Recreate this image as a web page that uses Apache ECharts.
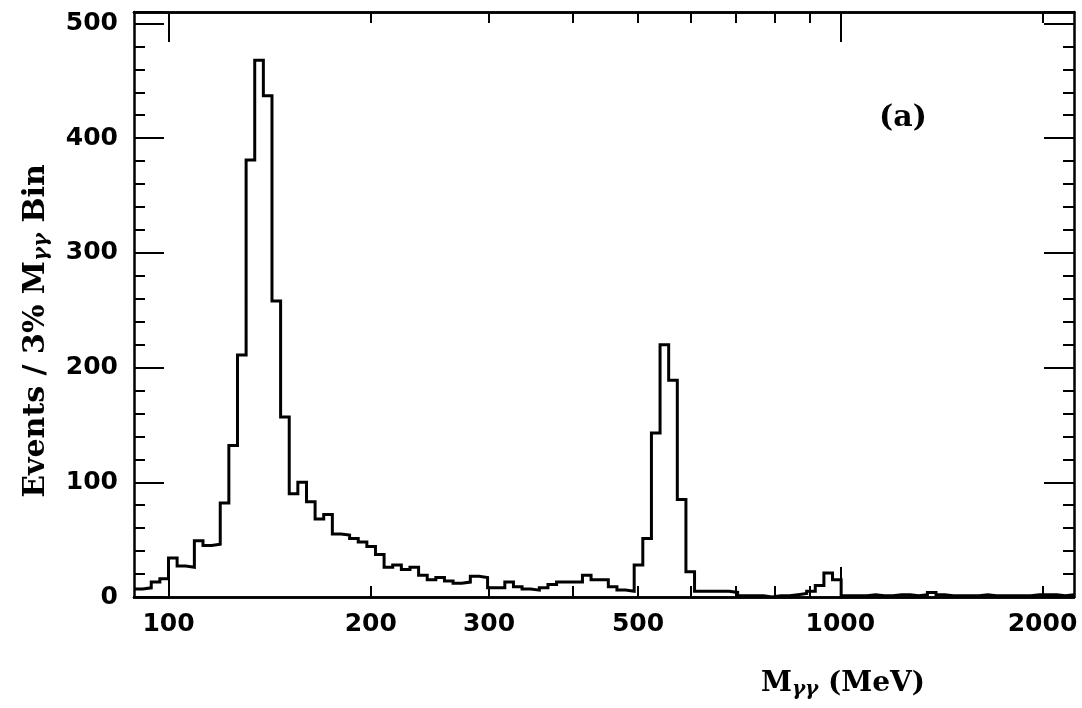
<!DOCTYPE html>
<html>
<head>
<meta charset="utf-8">
<title>M_gg histogram</title>
<script src="https://cdn.jsdelivr.net/npm/echarts@6/dist/echarts.min.js"></script>
<style>
    html, body { margin: 0; padding: 0; background: #fff; }
    #chart { width: 1082px; height: 708px; }
</style>
</head>
<body>
<div id="chart"></div>
<script>
// 3% bins: lower edge of bin k is 100 * 1.03^k, first bin k = -4
var binRatio = 1.03;
var firstBin = -4;

// events per bin (k = -4 ... 104)
var binCounts = [
    7, 8, 13, 16,
    34, 27, 26, 49, 45, 46, 82, 132, 211, 381,
    468, 437, 258, 157, 90, 100, 83, 68, 72, 55,
    54, 51, 48, 44, 37, 26, 28, 24, 26, 19,
    15, 17, 14, 12, 13, 18, 17, 8, 8, 13,
    9, 7, 6, 8, 11, 13, 13, 13, 19, 15,
    15, 9, 6, 5, 28, 51, 143, 220, 189, 85,
    22, 5, 5, 5, 5, 4, 1, 1, 1, 0,
    1, 1, 2, 3, 5, 10, 21, 15, 1, 1,
    1, 2, 1, 1, 2, 2, 1, 2, 4, 2,
    1, 1, 1, 1, 2, 1, 1, 1, 1, 1,
    2, 2, 2, 1, 2
];

var xLabelValues = [100, 200, 300, 500, 1000, 2000];
var xMajorTicks = [100, 1000];
var xMinorTicks = [200, 300, 400, 500, 600, 700, 800, 900, 2000];

function binEdge(k) {
    return 100 * Math.pow(binRatio, k);
}

// step line points at the lower edge of each bin
function histPoints() {
    var pts = [];
    for (var i = 0; i < binCounts.length; i++) {
        pts.push([binEdge(firstBin + i), binCounts[i]]);
    }
    pts.push([binEdge(firstBin + binCounts.length), binCounts[binCounts.length - 1]]);
    return pts;
}

var xMin = binEdge(firstBin);
var xMax = binEdge(firstBin + binCounts.length);

var numFont = 'DejaVu Sans';
var textFont = 'DejaVu Serif';

function xAxisDef(pos, ticks, len, showLabel) {
    return {
        type: 'log',
        logBase: 10,
        position: pos,
        min: xMin,
        max: xMax,
        axisLine: {show: true, lineStyle: {color: '#000', width: 2.5}},
        axisTick: {show: true, inside: true, length: len, customValues: ticks,
            lineStyle: {color: '#000', width: 2}},
        axisLabel: {show: showLabel, customValues: xLabelValues, margin: 15,
            color: '#000', fontFamily: numFont, fontSize: 25, fontWeight: 'bold',
            formatter: function (v) { return Math.round(v); }},
        splitLine: {show: false},
        minorTick: {show: false}
    };
}

function yAxisDef(pos, showLabel) {
    return {
        type: 'value',
        position: pos,
        min: 0,
        max: 510,
        interval: 100,
        axisLine: {show: true, lineStyle: {color: '#000', width: 2.5}},
        axisTick: {show: true, inside: true, length: 30, lineStyle: {color: '#000', width: 2}},
        minorTick: {show: true, splitNumber: 5, length: 11, lineStyle: {color: '#000', width: 2}},
        axisLabel: {show: showLabel, margin: 16, color: '#000', fontFamily: numFont,
            fontSize: 25, fontWeight: 'bold', showMaxLabel: false},
        splitLine: {show: false}
    };
}

var chart = echarts.init(document.getElementById('chart'), null, {renderer: 'canvas'});

chart.setOption({
    backgroundColor: '#fff',
    animation: false,
    grid: {left: 134, right: 8, top: 12, bottom: 111},
    xAxis: [
        xAxisDef('bottom', xMajorTicks, 30, true),
        xAxisDef('bottom', xMinorTicks, 11, false),
        xAxisDef('top', xMajorTicks, 30, false),
        xAxisDef('top', xMinorTicks, 11, false)
    ],
    yAxis: [
        yAxisDef('left', true),
        yAxisDef('right', false)
    ],
    graphic: [
        {   // y axis title
            type: 'text',
            x: 36, y: 331,
            rotation: Math.PI / 2,
            style: {
                text: 'Events / 3% M{sub|γγ} Bin',
                rich: {sub: {fontFamily: textFont, fontWeight: 'bold', fontSize: 21, fontStyle: 'italic',
                    padding: [12, 0, 0, 0]}},
                fontFamily: textFont, fontWeight: 'bold', fontSize: 30,
                fill: '#000', align: 'center', verticalAlign: 'middle'
            }
        },
        {   // x axis title
            type: 'text',
            x: 843, y: 684,
            style: {
                text: 'M{sub|γγ} (MeV)',
                rich: {sub: {fontFamily: textFont, fontWeight: 'bold', fontSize: 20, fontStyle: 'italic',
                    padding: [12, 0, 0, 0]}},
                fontFamily: textFont, fontWeight: 'bold', fontSize: 28,
                fill: '#000', align: 'center', verticalAlign: 'middle'
            }
        },
        {
            type: 'text',
            x: 903, y: 118,
            style: {
                text: '(a)',
                fontFamily: textFont, fontWeight: 'bold', fontSize: 30,
                fill: '#000', align: 'center', verticalAlign: 'middle'
            }
        }
    ],
    series: [{
        type: 'line',
        step: 'end',
        xAxisIndex: 0,
        yAxisIndex: 0,
        symbol: 'none',
        clip: true,
        lineStyle: {color: '#000', width: 3, join: 'miter'},
        data: histPoints()
    }]
});
</script>
</body>
</html>
